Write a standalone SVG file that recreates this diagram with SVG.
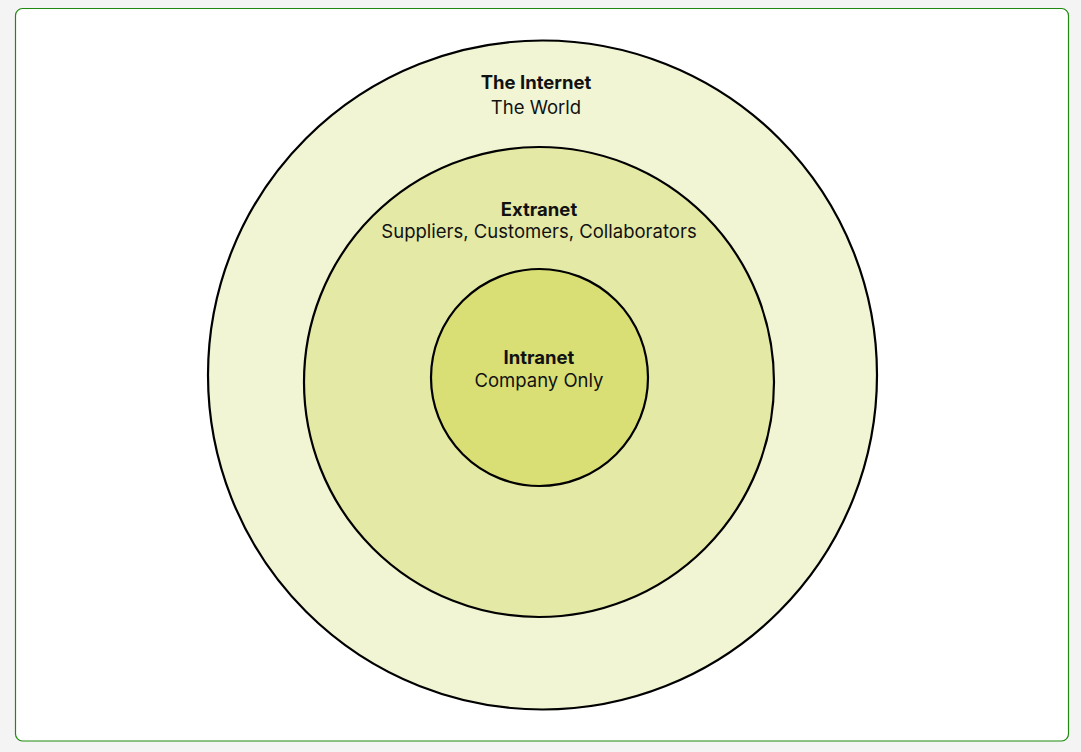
<svg xmlns="http://www.w3.org/2000/svg" width="1081" height="752" viewBox="0 0 1081 752">
<style>
.ring{stroke:#000;stroke-width:2.2}
.t{font-family:Inter,"Noto Sans",sans-serif;font-size:18.5px;text-anchor:middle;fill:#111}
.b{font-weight:bold}
</style>
<rect x="0" y="0" width="1081" height="752" fill="#f4f4f4"/>
<rect x="15.5" y="8.5" width="1053" height="732.5" rx="7" fill="#fff" stroke="#1e8a0e" stroke-width="1.2"/>
<g id="internet">
<circle class="ring" cx="542.5" cy="375" r="334.5" fill="#f2f5d3"/>
<text class="t b" x="536" y="89">The Internet</text>
<text class="t" x="536" y="114">The World</text>
</g>
<g id="extranet">
<circle class="ring" cx="539" cy="382" r="235" fill="#e5e9a6"/>
<text class="t b" x="539" y="216">Extranet</text>
<text class="t" x="539" y="238">Suppliers, Customers, Collaborators</text>
</g>
<g id="intranet">
<circle class="ring" cx="539.5" cy="377.5" r="108.5" fill="#d9df75"/>
<text class="t b" x="539" y="364">Intranet</text>
<text class="t" x="539" y="387">Company Only</text>
</g>
<g id="connectors"/>
</svg>
